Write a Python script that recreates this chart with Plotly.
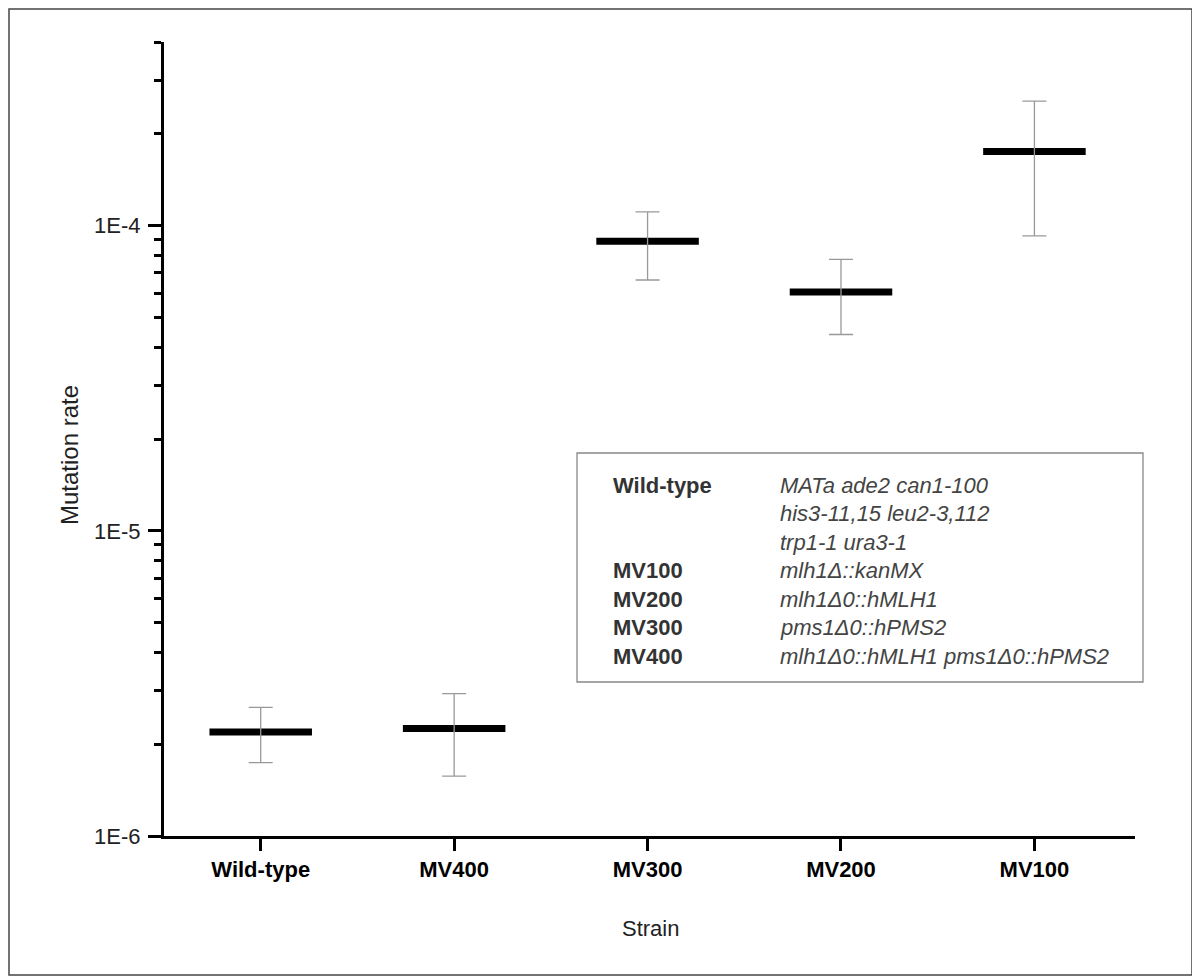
import math
import plotly.graph_objects as go

# ---------------- data ----------------
strains = ["Wild-type", "MV400", "MV300", "MV200", "MV100"]
rates = [2.19e-6, 2.25e-6, 8.89e-5, 6.06e-5, 1.75e-4]
upper = [2.64e-6, 2.93e-6, 1.11e-4, 7.76e-5, 2.56e-4]
lower = [1.74e-6, 1.57e-6, 6.64e-5, 4.40e-5, 9.26e-5]

ytick_vals = [1e-6, 1e-5, 1e-4]
ytick_text = ["1E-6", "1E-5", "1E-4"]

legend_names = ["Wild-type", "", "", "MV100", "MV200", "MV300", "MV400"]
legend_genotypes = [
    "MATa ade2 can1-100",
    "his3-11,15 leu2-3,112",
    "trp1-1 ura3-1",
    "mlh1Δ::kanMX",
    "mlh1Δ0::hMLH1",
    "pms1Δ0::hPMS2",
    "mlh1Δ0::hMLH1 pms1Δ0::hPMS2",
]

# ---------------- layout geometry ----------------
OFF = 8  # page body margin in which the figure is placed
W, H = 1200 - OFF, 980 - OFF
L, T = 164 - OFF, 42 - OFF
R, B = W - (1135 - OFF), H - (836 - OFF)
PW, PH = W - L - R, H - T - B
FONT = "Liberation Sans, Arial, Helvetica, sans-serif"
half_w = 0.265


def px(xpage):
    return (xpage - OFF - L) / PW


def py(ypage):
    return 1 - (ypage - OFF - T) / PH


fig = go.Figure()
xs = list(range(len(strains)))

# mean bars
for i, r in zip(xs, rates):
    fig.add_trace(go.Scatter(
        x=[i - half_w, i + half_w], y=[r, r], mode="lines",
        line=dict(color="black", width=7), showlegend=False, hoverinfo="skip"))

# error bars
fig.add_trace(go.Scatter(
    x=xs, y=rates, mode="markers", marker=dict(size=1, color="rgba(0,0,0,0)"),
    error_y=dict(type="data", symmetric=False,
                 array=[u - r for u, r in zip(upper, rates)],
                 arrayminus=[r - l for r, l in zip(rates, lower)],
                 color="#999999", thickness=1.3, width=12),
    showlegend=False, hoverinfo="skip"))

minor_vals = [k * 10 ** e for e in (-6, -5, -4) for k in range(2, 10) if k * 10 ** e <= 4e-4]

fig.update_xaxes(
    range=[-0.5, 4.52], tickmode="array", tickvals=xs,
    ticktext=["<b>%s</b>" % s for s in strains],
    showline=True, linecolor="black", linewidth=3,
    ticks="outside", ticklen=12, tickwidth=3, tickcolor="black",
    tickfont=dict(family=FONT, size=22, color="black"),
    showgrid=False, zeroline=False)

fig.update_yaxes(
    type="log", range=[-6, math.log10(4e-4)],
    tickmode="array", tickvals=ytick_vals, ticktext=ytick_text,
    showline=True, linecolor="black", linewidth=3,
    ticks="outside", ticklen=13, tickwidth=3, tickcolor="black",
    ticklabelstandoff=3,
    tickfont=dict(family=FONT, size=22, color="#222222"),
    minor=dict(tickmode="array", tickvals=minor_vals, ticks="outside",
               ticklen=7, tickwidth=3, tickcolor="black", showgrid=False),
    showgrid=False, zeroline=False)

annotations = [
    dict(text="Strain", x=px(650), y=py(928), xref="paper", yref="paper",
         showarrow=False, font=dict(family=FONT, size=22, color="#222222"),
         xanchor="center", yanchor="middle"),
    dict(text="Mutation rate", x=px(69), y=py(455), xref="paper", yref="paper",
         showarrow=False, textangle=-90,
         font=dict(family=FONT, size=24, color="#222222"),
         xanchor="center", yanchor="middle"),
]

row_y0, row_dy = 485, 28.5
for k, (nm, gt) in enumerate(zip(legend_names, legend_genotypes)):
    yk = row_y0 + k * row_dy
    if nm:
        annotations.append(dict(
            text="<b>%s</b>" % nm, x=px(611), y=py(yk), xref="paper", yref="paper",
            showarrow=False, xanchor="left", yanchor="middle",
            font=dict(family=FONT, size=22, color="#333333")))
    annotations.append(dict(
        text="<i>%s</i>" % gt, x=px(778), y=py(yk), xref="paper", yref="paper",
        showarrow=False, xanchor="left", yanchor="middle",
        font=dict(family=FONT, size=22, color="#444444")))

shapes = [
    dict(type="rect", xref="paper", yref="paper",
         x0=px(577), x1=px(1143), y0=py(682), y1=py(453),
         line=dict(color="#888888", width=1.3), fillcolor="rgba(0,0,0,0)"),
    dict(type="rect", xref="paper", yref="paper",
         x0=px(OFF + 1), x1=px(1192), y0=py(975), y1=py(OFF + 1),
         line=dict(color="#444444", width=1.5), fillcolor="rgba(0,0,0,0)"),
]

fig.update_layout(
    width=W, height=H, margin=dict(l=L, r=R, t=T, b=B),
    paper_bgcolor="white", plot_bgcolor="white",
    font=dict(family=FONT), showlegend=False,
    annotations=annotations, shapes=shapes)

fig.write_html("out.html")
